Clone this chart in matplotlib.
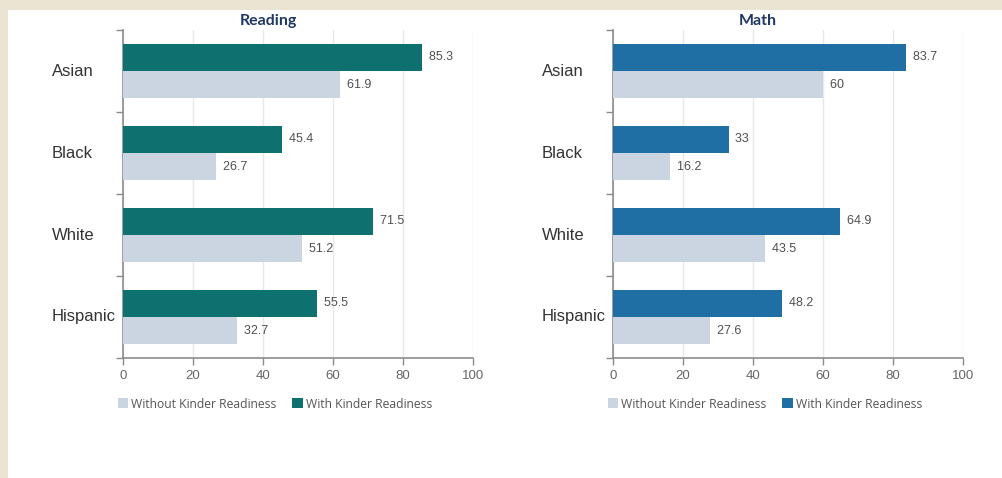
import matplotlib
matplotlib.use("Agg")
import matplotlib.pyplot as plt
from matplotlib.patches import Patch, Rectangle
import numpy as np

# Data
groups = ["Asian", "Black", "White", "Hispanic"]
reading_with = [85.3, 45.4, 71.5, 55.5]
reading_without = [61.9, 26.7, 51.2, 32.7]
math_with = [83.7, 33, 64.9, 48.2]
math_without = [60, 16.2, 43.5, 27.6]
x_ticks = [0, 20, 40, 60, 80, 100]

TEAL = "#0f716f"
BLUE = "#1f6fa4"
LIGHT = "#cbd5e1"
BEIGE = "#ece4d2"
AXIS_GRAY = "#8c8c8c"

fig = plt.figure(figsize=(10.02, 4.78), dpi=100, facecolor=BEIGE)
# white content panel behind both charts
panel = Rectangle((8 / 1002, 0), 1 - 8 / 1002, 1 - 10 / 478,
                  transform=fig.transFigure, facecolor="white",
                  edgecolor="none", zorder=-10)
fig.add_artist(panel)

ax_w = 350 / 1002
ax_b = 1 - 358 / 478
ax_h = 328 / 478


def fmt(v):
    return f"{v:g}"


def draw_panel(left_px, title, with_vals, without_vals, color, title_px):
    ax = fig.add_axes([left_px / 1002, ax_b, ax_w, ax_h])
    ax.set_facecolor("white")
    centers = np.arange(len(groups)) + 0.5
    h = 0.33
    ax.barh(centers - h / 2, with_vals, height=h, color=color, zorder=3)
    ax.barh(centers + h / 2, without_vals, height=h, color=LIGHT, zorder=3)
    for c, v in zip(centers, with_vals):
        ax.text(v, c - h / 2, "  " + fmt(v), va="center", ha="left",
                fontsize=9, color="#505050", family="Liberation Sans")
    for c, v in zip(centers, without_vals):
        ax.text(v, c + h / 2, "  " + fmt(v), va="center", ha="left",
                fontsize=9, color="#505050", family="Liberation Sans")

    ax.set_xlim(0, 100)
    ax.set_ylim(len(groups), 0)
    ax.set_xticks(x_ticks)
    ax.set_xticklabels([str(t) for t in x_ticks], family="Liberation Sans",
                       fontsize=9.5, color="#666666")
    ax.set_yticks(np.arange(len(groups) + 1))
    ax.set_yticklabels([])
    ax.tick_params(axis="both", color=AXIS_GRAY, length=5, width=1)
    ax.tick_params(axis="x", pad=3.5)
    for s in ["top", "right"]:
        ax.spines[s].set_visible(False)
    for s in ["left", "bottom"]:
        ax.spines[s].set_color(AXIS_GRAY)
        ax.spines[s].set_linewidth(1.2)
    ax.grid(axis="x", color="#e8e8e8", linewidth=1, zorder=0)
    ax.set_axisbelow(True)

    label_x = (52 - 123) / 350
    for c, g in zip(centers, groups):
        ax.text(label_x, c, g, transform=ax.get_yaxis_transform(),
                ha="left", va="center", fontsize=12, color="#333333",
                family="Liberation Sans")

    fig.text(title_px / 1002, 1 - 21 / 478, title, ha="center", va="center",
             fontsize=11.5, fontweight="bold", color="#1f3864", family="Lato")

    handles = [Patch(facecolor=LIGHT, edgecolor="none", label="Without Kinder Readiness"),
               Patch(facecolor=color, edgecolor="none", label="With Kinder Readiness")]
    leg = ax.legend(handles=handles, ncol=2, frameon=False, loc="center left",
                    bbox_to_anchor=(-5 / 350, -46 / 328), borderpad=0,
                    borderaxespad=0, handlelength=0.85, handleheight=0.85,
                    handletextpad=0.25, columnspacing=1.3,
                    prop={"family": "Open Sans", "size": 8.7})
    for t in leg.get_texts():
        t.set_color("#555555")
    return ax


draw_panel(123, "Reading", reading_with, reading_without, TEAL, 268)
draw_panel(613, "Math", math_with, math_without, BLUE, 758)

fig.savefig("out.png", dpi=100, facecolor=BEIGE)
